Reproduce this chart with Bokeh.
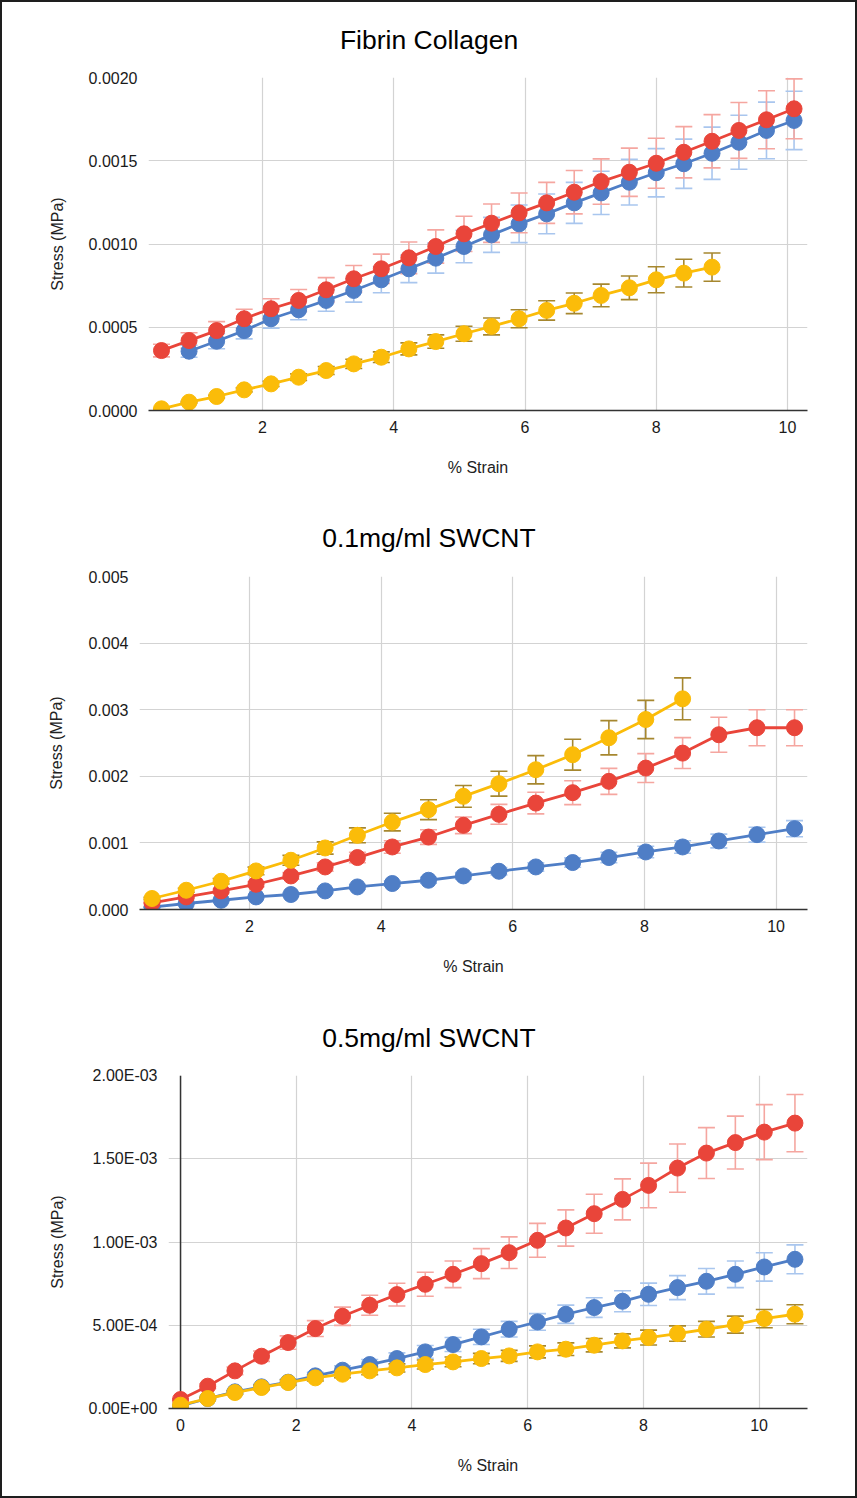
import numpy as np
from bokeh.plotting import figure
from bokeh.layouts import column
from bokeh.models import ColumnDataSource, Whisker, TeeHead, FixedTicker, Range1d, Span
from bokeh.embed import file_html
from bokeh.resources import INLINE

# ---------------- data ----------------
# Chart 1: Fibrin Collagen
FC_X_RED = [0.46, 0.88, 1.30, 1.72, 2.13, 2.55, 2.97, 3.39, 3.81, 4.23, 4.64, 5.07,
            5.49, 5.91, 6.33, 6.75, 7.16, 7.59, 8.00, 8.42, 8.85, 9.26, 9.68, 10.10]
FC_RED = [0.000360, 0.000420, 0.000480, 0.000551, 0.000611, 0.000661, 0.000725, 0.000791,
          0.000851, 0.000917, 0.000985, 0.001061, 0.001125, 0.001187, 0.001247, 0.001311,
          0.001375, 0.001431, 0.001485, 0.001551, 0.001617, 0.001682, 0.001746, 0.001812]
FC_RED_ERR = [0.000038, 0.000047, 0.000054, 0.000057, 0.000060, 0.000066, 0.000073, 0.000080,
              0.000088, 0.000095, 0.000100, 0.000106, 0.000115, 0.000119, 0.000123, 0.000130,
              0.000136, 0.000145, 0.000150, 0.000154, 0.000160, 0.000168, 0.000174, 0.000180]
FC_X_BLUE = [0.88, 1.30, 1.72, 2.13, 2.55, 2.97, 3.39, 3.81, 4.23, 4.64, 5.07, 5.49,
             5.91, 6.33, 6.75, 7.16, 7.59, 8.00, 8.42, 8.85, 9.26, 9.68, 10.10]
FC_BLUE = [0.000356, 0.000416, 0.000480, 0.000551, 0.000605, 0.000661, 0.000721, 0.000785,
           0.000851, 0.000915, 0.000985, 0.001055, 0.001121, 0.001181, 0.001247, 0.001307,
           0.001371, 0.001428, 0.001482, 0.001545, 0.001611, 0.001682, 0.001742]
FC_BLUE_ERR = [0.000036, 0.000045, 0.000050, 0.000056, 0.000060, 0.000065, 0.000070, 0.000078,
               0.000083, 0.000090, 0.000098, 0.000105, 0.000113, 0.000119, 0.000123, 0.000130,
               0.000137, 0.000145, 0.000148, 0.000157, 0.000162, 0.000170, 0.000175]
FC_X_YEL = [0.46, 0.88, 1.30, 1.72, 2.13, 2.55, 2.97, 3.39, 3.81, 4.23, 4.64, 5.07,
            5.49, 5.91, 6.33, 6.75, 7.16, 7.59, 8.00, 8.42, 8.85]
FC_YEL = [0.000010, 0.000050, 0.000084, 0.000124, 0.000160, 0.000200, 0.000240, 0.000280,
          0.000320, 0.000370, 0.000414, 0.000461, 0.000505, 0.000551, 0.000601, 0.000644,
          0.000691, 0.000737, 0.000785, 0.000825, 0.000861]
FC_YEL_ERR = [0.000002, 0.000005, 0.000008, 0.000012, 0.000016, 0.000020, 0.000024, 0.000028,
              0.000032, 0.000036, 0.000040, 0.000045, 0.000051, 0.000054, 0.000058, 0.000062,
              0.000068, 0.000071, 0.000078, 0.000083, 0.000085]

# Chart 2: 0.1mg/ml SWCNT
S1_X = [0.52, 1.04, 1.57, 2.10, 2.63, 3.15, 3.64, 4.17, 4.72, 5.25, 5.79, 6.35,
        6.91, 7.46, 8.02, 8.58, 9.13, 9.71, 10.28]
S1_BLUE = [0.000035, 0.000090, 0.000139, 0.000189, 0.000225, 0.000279, 0.000339, 0.000390,
           0.000439, 0.000504, 0.000574, 0.000639, 0.000705, 0.000780, 0.000864, 0.000939,
           0.001029, 0.001124, 0.001214]
S1_BLUE_ERR = [0.000004, 0.000009, 0.000014, 0.000019, 0.000023, 0.000028, 0.000034, 0.000039,
               0.000044, 0.000050, 0.000057, 0.000064, 0.000070, 0.000078, 0.000086, 0.000094,
               0.000103, 0.000112, 0.000121]
S1_RED = [0.000099, 0.000189, 0.000279, 0.000379, 0.000504, 0.000639, 0.000780, 0.000939,
          0.001088, 0.001264, 0.001429, 0.001598, 0.001754, 0.001924, 0.002123, 0.002348,
          0.002624, 0.002729, 0.002729]
S1_RED_ERR = [0.000010, 0.000019, 0.000028, 0.000038, 0.000050, 0.000064, 0.000078, 0.000094,
              0.000110, 0.000125, 0.000150, 0.000162, 0.000180, 0.000195, 0.000217, 0.000232,
              0.000262, 0.000270, 0.000270]
S1_X_YEL = [0.52, 1.04, 1.57, 2.10, 2.63, 3.15, 3.64, 4.17, 4.72, 5.25, 5.79, 6.35,
            6.91, 7.46, 8.02, 8.58]
S1_YEL = [0.000165, 0.000289, 0.000424, 0.000579, 0.000739, 0.000924, 0.001114, 0.001313,
          0.001499, 0.001699, 0.001889, 0.002099, 0.002324, 0.002579, 0.002853, 0.003163]
S1_YEL_ERR = [0.000017, 0.000029, 0.000042, 0.000058, 0.000074, 0.000092, 0.000112, 0.000132,
              0.000150, 0.000163, 0.000187, 0.000212, 0.000232, 0.000257, 0.000287, 0.000315]

# Chart 3: 0.5mg/ml SWCNT
S5_X = [0.00, 0.47, 0.94, 1.40, 1.86, 2.33, 2.80, 3.27, 3.74, 4.23, 4.71, 5.20,
        5.68, 6.17, 6.66, 7.15, 7.64, 8.09, 8.59, 9.09, 9.59, 10.09, 10.62]
S5_RED = [0.000054, 0.000134, 0.000226, 0.000314, 0.000396, 0.000480, 0.000554, 0.000620,
          0.000684, 0.000746, 0.000806, 0.000870, 0.000936, 0.001010, 0.001084, 0.001170,
          0.001256, 0.001340, 0.001444, 0.001534, 0.001597, 0.001660, 0.001714]
S5_RED_ERR = [0.000005, 0.000013, 0.000023, 0.000031, 0.000040, 0.000048, 0.000055, 0.000060,
              0.000068, 0.000072, 0.000080, 0.000090, 0.000095, 0.000102, 0.000109, 0.000117,
              0.000123, 0.000134, 0.000145, 0.000153, 0.000159, 0.000165, 0.000172]
S5_BLUE = [0.000015, 0.000060, 0.000100, 0.000130, 0.000158, 0.000196, 0.000230, 0.000264,
           0.000300, 0.000340, 0.000384, 0.000430, 0.000476, 0.000520, 0.000566, 0.000606,
           0.000644, 0.000686, 0.000726, 0.000764, 0.000806, 0.000850, 0.000896]
S5_BLUE_ERR = [0.000002, 0.000006, 0.000010, 0.000014, 0.000018, 0.000022, 0.000026, 0.000030,
               0.000034, 0.000038, 0.000042, 0.000046, 0.000047, 0.000050, 0.000055, 0.000059,
               0.000063, 0.000067, 0.000072, 0.000077, 0.000080, 0.000085, 0.000087]
S5_YEL = [0.000020, 0.000060, 0.000096, 0.000126, 0.000156, 0.000184, 0.000206, 0.000226,
          0.000244, 0.000264, 0.000280, 0.000300, 0.000316, 0.000340, 0.000356, 0.000380,
          0.000406, 0.000426, 0.000450, 0.000476, 0.000504, 0.000540, 0.000566]
S5_YEL_ERR = [0.000002, 0.000006, 0.000010, 0.000013, 0.000016, 0.000019, 0.000021, 0.000023,
              0.000025, 0.000027, 0.000029, 0.000031, 0.000033, 0.000036, 0.000038, 0.000040,
              0.000042, 0.000045, 0.000046, 0.000047, 0.000051, 0.000055, 0.000057]

TITLES = ["Fibrin Collagen", "0.1mg/ml SWCNT", "0.5mg/ml SWCNT"]
X_LABEL = "% Strain"
Y_LABEL = "Stress (MPa)"
X_TICKS_12 = [2, 4, 6, 8, 10]
X_TICKS_3 = [0, 2, 4, 6, 8, 10]
Y_TICKS_1 = [0.0, 0.0005, 0.001, 0.0015, 0.002]
Y_LABELS_1 = ["0.0000", "0.0005", "0.0010", "0.0015", "0.0020"]
Y_TICKS_2 = [0.0, 0.001, 0.002, 0.003, 0.004, 0.005]
Y_LABELS_2 = ["0.000", "0.001", "0.002", "0.003", "0.004", "0.005"]
Y_TICKS_3 = [0.0, 0.0005, 0.001, 0.0015, 0.002]
Y_LABELS_3 = ["0.00E+00", "5.00E-04", "1.00E-03", "1.50E-03", "2.00E-03"]

# ---------------- styling ----------------
FONT = "Liberation Sans"
BLUE, RED, YEL = "#4f7ec6", "#e9453a", "#fbbc09"
BLUE_E, RED_E, YEL_E = "#a9c6ee", "#f5a6a0", "#a6872f"
W = 853
PAGE_X0 = 2  # figure left edge on the page (after border)


def make_chart(title, xr, yr, xticks, yticks, ylabels, series, height,
               frame_left_page, mb_top, mb_bottom, title_left_page, title_standoff,
               zero_v=False):
    mb_left = int(round(frame_left_page - PAGE_X0))
    p = figure(width=W, height=height, output_backend="svg", toolbar_location=None,
               x_range=Range1d(*xr), y_range=Range1d(*yr),
               min_border_left=mb_left, min_border_right=W - 805,
               min_border_top=mb_top, min_border_bottom=mb_bottom)
    p.frame_align = False
    p.outline_line_color = None
    p.background_fill_color = "white"
    p.border_fill_color = "white"

    p.title.text = title
    p.title.text_font = FONT
    p.title.text_font_size = "26.5px"
    p.title.text_font_style = "normal"
    p.title.text_color = "#000000"
    p.title.align = "left"
    p.title.vertical_align = "top"
    p.title.offset = title_left_page - (mb_left + PAGE_X0)
    p.title.standoff = title_standoff

    p.xaxis.ticker = FixedTicker(ticks=xticks)
    p.yaxis.ticker = FixedTicker(ticks=yticks)
    p.yaxis.major_label_overrides = {t: l for t, l in zip(yticks, ylabels)}
    for ax in (p.xaxis[0], p.yaxis[0]):
        ax.major_tick_line_color = None
        ax.minor_tick_line_color = None
        ax.major_label_text_font = FONT
        ax.major_label_text_font_size = "16px"
        ax.major_label_text_color = "#1a1a1a"
        ax.axis_label_text_font = FONT
        ax.axis_label_text_font_size = "16px"
        ax.axis_label_text_font_style = "normal"
        ax.axis_label_text_color = "#222222"
    p.xaxis.axis_label = X_LABEL
    p.yaxis.axis_label = Y_LABEL
    p.xaxis.axis_line_color = "#333333"
    p.xaxis.axis_line_width = 1.5
    p.yaxis.axis_line_color = None
    p.xaxis.major_label_standoff = 4
    p.yaxis.major_label_standoff = 5
    p.xaxis.axis_label_standoff = 23
    p.yaxis.axis_label_standoff = 20

    p.xgrid.grid_line_color = "#d3d3d3"
    p.ygrid.grid_line_color = "#d3d3d3"
    p.xgrid.grid_line_width = 1.2
    p.ygrid.grid_line_width = 1.2

    if zero_v:
        p.add_layout(Span(location=0, dimension="height", line_color="#333333",
                          line_width=1.5, level="underlay"))

    # error bars first (beneath the series)
    for xs, ys, es, col, ecol in series:
        y = np.array(ys)
        e = np.array(es)
        src = ColumnDataSource(dict(x=xs, up=y + e, lo=y - e))
        wk = Whisker(source=src, base="x", upper="up", lower="lo",
                     line_color=ecol, line_width=1.6, level="underlay",
                     upper_head=TeeHead(size=17, line_color=ecol, line_width=1.6),
                     lower_head=TeeHead(size=17, line_color=ecol, line_width=1.6))
        p.add_layout(wk)
    for xs, ys, es, col, ecol in series:
        p.line(xs, ys, line_color=col, line_width=2.8)
        p.scatter(xs, ys, size=16, fill_color=col, line_color=col)
    return p


p1 = make_chart(TITLES[0], (0.262, 10.305), (0, 0.002), X_TICKS_12, Y_TICKS_1, Y_LABELS_1,
                [(FC_X_BLUE, FC_BLUE, FC_BLUE_ERR, BLUE, BLUE_E),
                 (FC_X_RED, FC_RED, FC_RED_ERR, RED, RED_E),
                 (FC_X_YEL, FC_YEL, FC_YEL_ERR, YEL, YEL_E)],
                height=498, frame_left_page=148, mb_top=75, mb_bottom=90,
                title_left_page=339.4, title_standoff=42)
p2 = make_chart(TITLES[1], (0.33, 10.477), (0, 0.005), X_TICKS_12, Y_TICKS_2, Y_LABELS_2,
                [(S1_X, S1_BLUE, S1_BLUE_ERR, BLUE, BLUE_E),
                 (S1_X, S1_RED, S1_RED_ERR, RED, RED_E),
                 (S1_X_YEL, S1_YEL, S1_YEL_ERR, YEL, YEL_E)],
                height=498, frame_left_page=138.7, mb_top=76, mb_bottom=89,
                title_left_page=321.7, title_standoff=43)
p3 = make_chart(TITLES[2], (-0.208, 10.837), (0, 0.002), X_TICKS_3, Y_TICKS_3, Y_LABELS_3,
                [(S5_X, S5_BLUE, S5_BLUE_ERR, BLUE, BLUE_E),
                 (S5_X, S5_RED, S5_RED_ERR, RED, RED_E),
                 (S5_X, S5_YEL, S5_YEL_ERR, YEL, YEL_E)],
                height=498, frame_left_page=168.3, mb_top=77, mb_bottom=88,
                title_left_page=321.7, title_standoff=42, zero_v=True)

layout = column(p1, p2, p3, spacing=0,
                styles={"border": "2px solid #1e1e1e", "background-color": "white"})

open("out.html", "w").write(file_html(layout, INLINE))
